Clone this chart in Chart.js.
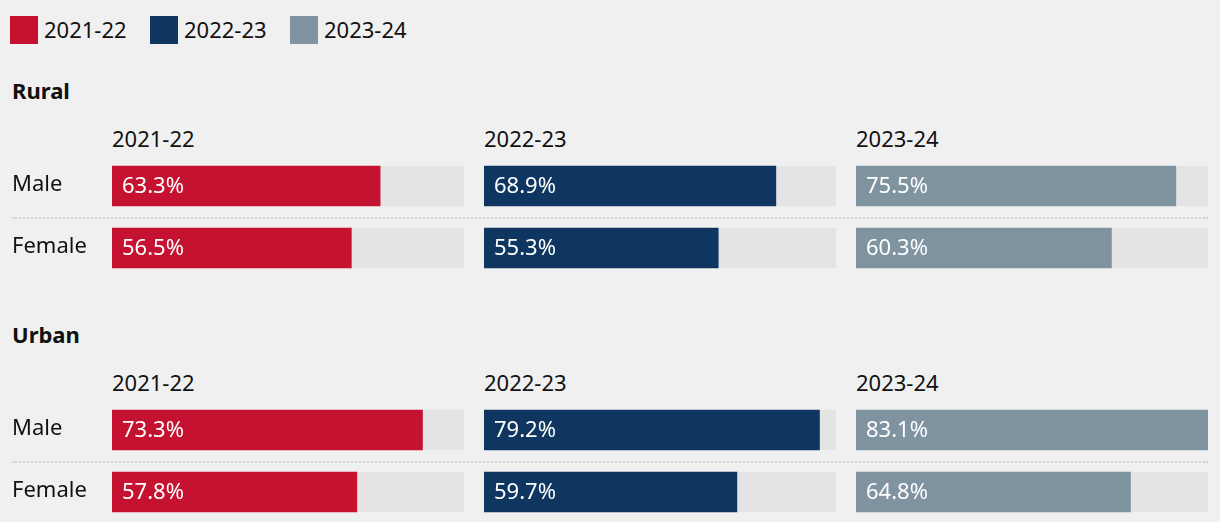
<!DOCTYPE html>
<html>
<head>
<meta charset="utf-8">
<script src="https://cdn.jsdelivr.net/npm/chart.js@4"></script>
<style>
  body { margin: 0; width: 1220px; height: 522px; overflow: hidden; background: #f0f0f0; font-family: "Noto Sans", sans-serif; color: #111; position: relative; }
  .abs { position: absolute; }
  .txt { font-size: 22px; line-height: 28px; white-space: nowrap; }
  .sw { width: 28px; height: 28px; }
  .head { font-size: 22px; font-weight: bold; line-height: 28px; }
  .dots { width: 1196px; height: 0; border-top: 2px dotted #d0d0d0; }
</style>
</head>
<body>
<div id="page"></div>
<script>
const years = ['2021-22', '2022-23', '2023-24'];
const genders = ['Male', 'Female'];
const ruralMale = [63.3, 68.9, 75.5];
const ruralFemale = [56.5, 55.3, 60.3];
const urbanMale = [73.3, 79.2, 83.1];
const urbanFemale = [57.8, 59.7, 64.8];
const yearColors = ['#c41230', '#0e3660', '#7f93a1'];

const page = document.getElementById('page');
const maxValue = Math.max(...ruralMale, ...ruralFemale, ...urbanMale, ...urbanFemale);

function addDiv(cls, left, top, text, extra) {
  const d = document.createElement('div');
  d.className = 'abs ' + cls;
  d.style.left = left + 'px';
  d.style.top = top + 'px';
  if (text) d.textContent = text;
  if (extra) Object.assign(d.style, extra);
  page.appendChild(d);
  return d;
}

// legend
const legendX = [10, 150, 290];
years.forEach((y, i) => {
  addDiv('sw', legendX[i], 16, '', { background: yearColors[i] });
  addDiv('txt', legendX[i] + 34, 15, y);
});

// grey track behind each bar
const trackPlugin = {
  id: 'track',
  beforeDatasetsDraw(chart) {
    const ctx = chart.ctx;
    const area = chart.chartArea;
    ctx.save();
    ctx.fillStyle = '#e4e4e4';
    chart.getDatasetMeta(0).data.forEach(bar => {
      const p = bar.getProps(['y', 'height'], true);
      ctx.fillRect(area.left, p.y - p.height / 2, area.right - area.left, p.height);
    });
    ctx.restore();
  }
};

// value text inside bars, and row names on the first column
const valuePlugin = {
  id: 'values',
  afterDatasetsDraw(chart, args, opts) {
    const ctx = chart.ctx;
    const ds = chart.data.datasets[0];
    const yScale = chart.scales.y;
    ctx.save();
    ctx.textBaseline = 'middle';
    ctx.font = '22px "Noto Sans"';
    chart.getDatasetMeta(0).data.forEach((bar, i) => {
      const p = bar.getProps(['y', 'base'], true);
      ctx.fillStyle = '#ffffff';
      ctx.fillText(ds.data[i].toFixed(1) + '%', p.base + 10, p.y + 1);
      if (opts.rowNames) {
        ctx.fillStyle = '#111111';
        ctx.fillText(chart.data.labels[i], 0, yScale.getPixelForValue(i) - 1);
      }
    });
    ctx.restore();
  }
};

const colLeft = [112, 484, 856];
const colWidth = 352;

function section(title, top, maleVals, femaleVals) {
  addDiv('head', 12, top - 16, title);
  addDiv('dots', 12, top + 125);
  years.forEach((y, i) => {
    addDiv('txt', colLeft[i], top + 32, y);
    const first = i === 0;
    const canvas = document.createElement('canvas');
    const left = first ? 12 : colLeft[i];
    const width = first ? colLeft[i] + colWidth - 12 : colWidth;
    canvas.width = width;
    canvas.height = 124;
    canvas.className = 'abs';
    canvas.style.left = left + 'px';
    canvas.style.top = (top + 63) + 'px';
    page.appendChild(canvas);
    new Chart(canvas.getContext('2d'), {
      type: 'bar',
      data: {
        labels: genders,
        datasets: [{
          data: [maleVals[i], femaleVals[i]],
          backgroundColor: yearColors[i],
          barThickness: 40
        }]
      },
      options: {
        indexAxis: 'y',
        responsive: false,
        animation: false,
        layout: { padding: { left: first ? colLeft[0] - 12 : 0, right: 0, top: 0, bottom: 0 } },
        plugins: {
          legend: { display: false },
          tooltip: { enabled: false },
          values: { rowNames: first }
        },
        scales: {
          x: { display: false, min: 0, max: maxValue },
          y: { display: false }
        }
      },
      plugins: [trackPlugin, valuePlugin]
    });
  });
}

section('Rural', 92, ruralMale, ruralFemale);
section('Urban', 336, urbanMale, urbanFemale);
</script>
</body>
</html>
